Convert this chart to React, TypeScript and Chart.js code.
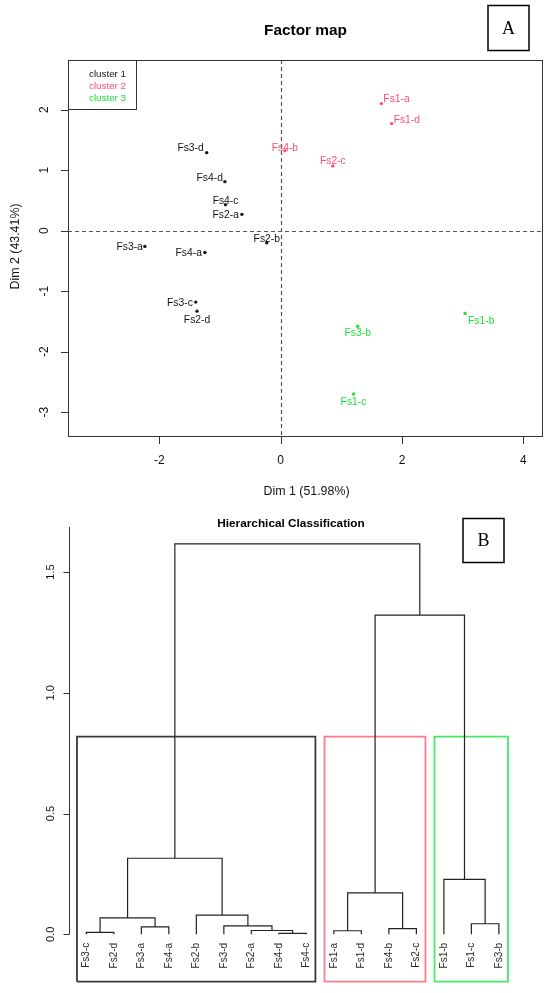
import React, { useEffect, useRef } from "react";
import { Chart, registerables } from "chart.js";
Chart.register(...registerables);

const SANS = '"Liberation Sans", Arial, Helvetica, sans-serif';
const SERIF = '"Liberation Serif", "Times New Roman", serif';

// ---------- Panel A : factor map ----------
const clusterNames = ["cluster 1", "cluster 2", "cluster 3"];
const clusterColors = ["#141414", "#FF4D73", "#22E03A"];
const cluster1Labels = ["Fs3-d", "Fs4-d", "Fs4-c", "Fs2-a", "Fs2-b", "Fs3-a", "Fs4-a", "Fs3-c", "Fs2-d"];
const cluster1Dim1 = [-1.22, -0.92, -0.91, -0.64, -0.23, -2.24, -1.25, -1.4, -1.38];
const cluster1Dim2 = [1.29, 0.81, 0.43, 0.27, -0.2, -0.26, -0.36, -1.18, -1.33];
const cluster2Labels = ["Fs1-a", "Fs1-d", "Fs4-b", "Fs2-c"];
const cluster2Dim1 = [1.66, 1.83, 0.07, 0.86];
const cluster2Dim2 = [2.1, 1.77, 1.32, 1.07];
const cluster3Labels = ["Fs1-b", "Fs3-b", "Fs1-c"];
const cluster3Dim1 = [3.04, 1.27, 1.2];
const cluster3Dim2 = [-1.37, -1.58, -2.7];
const xTicksA = [-2, 0, 2, 4];
const yTicksA = [-3, -2, -1, 0, 1, 2];
const xTitleA = "Dim 1 (51.98%)";
const yTitleA = "Dim 2 (43.41%)";
const titleA = "Factor map";

// ---------- Panel B : dendrogram ----------
const leafOrder = ["Fs3-c", "Fs2-d", "Fs3-a", "Fs4-a", "Fs2-b", "Fs3-d", "Fs2-a", "Fs4-d", "Fs4-c",
  "Fs1-a", "Fs1-d", "Fs4-b", "Fs2-c", "Fs1-b", "Fs1-c", "Fs3-b"];
const mergeLeft = ["Fs4-d", "Fs3-c", "Fs1-a", "Fs2-a", "Fs4-b", "Fs3-a", "Fs3-d", "Fs1-c", "m2", "Fs2-b", "m3", "Fs1-b", "m9", "m11", "m13"];
const mergeRight = ["Fs4-c", "Fs2-d", "Fs1-d", "m1", "Fs2-c", "Fs4-a", "m4", "Fs3-b", "m6", "m7", "m5", "m8", "m10", "m12", "m14"];
const mergeHeight = [0.004, 0.008, 0.015, 0.016, 0.024, 0.031, 0.035, 0.044, 0.068, 0.08, 0.172, 0.228, 0.315, 1.322, 1.617];
const yTicksB = [0, 0.5, 1, 1.5];
const titleB = "Hierarchical Classification";
const rectColors = ["#3a3a3a", "#FF7A8C", "#45E868"];

// label placement around points (style only)
const labelPlace: Record<string, [CanvasTextAlign, number, number]> = {
  "Fs3-d": ["right", -3, -4], "Fs4-d": ["right", -2, -4], "Fs4-c": ["center", 0, -4],
  "Fs2-a": ["right", -3, 1], "Fs2-b": ["center", 0, -4], "Fs3-a": ["right", -2, 1],
  "Fs4-a": ["right", -3, 1], "Fs3-c": ["right", -3, 1], "Fs2-d": ["center", 0, 9],
  "Fs4-b": ["center", 0, -3], "Fs1-a": ["left", 2, -4], "Fs1-d": ["left", 2, -3],
  "Fs2-c": ["center", 0, -5], "Fs1-b": ["left", 3, 8], "Fs3-b": ["center", 0, 7],
  "Fs1-c": ["center", 0, 8],
};

const clusterLabels = [cluster1Labels, cluster2Labels, cluster3Labels];
const clusterDim1 = [cluster1Dim1, cluster2Dim1, cluster3Dim1];
const clusterDim2 = [cluster1Dim2, cluster2Dim2, cluster3Dim2];

function FactorMap() {
  const ref = useRef<HTMLCanvasElement | null>(null);
  useEffect(() => {
    const datasets = clusterLabels.map((labs, c) => ({
      label: clusterNames[c],
      data: labs.map((_, i) => ({ x: clusterDim1[c][i], y: clusterDim2[c][i] })),
      backgroundColor: clusterColors[c],
      borderWidth: 0,
      pointRadius: 1.7,
    }));
    const plugin = {
      id: "factorDecor",
      beforeDatasetsDraw(chart: any) {
        const { ctx, chartArea: a, scales } = chart;
        const x0 = scales.x.getPixelForValue(0);
        const y0 = scales.y.getPixelForValue(0);
        ctx.save();
        ctx.strokeStyle = "#555";
        ctx.lineWidth = 1.2;
        ctx.setLineDash([4, 3]);
        ctx.beginPath();
        ctx.moveTo(Math.round(x0) + 0.5, a.top);
        ctx.lineTo(Math.round(x0) + 0.5, a.bottom);
        ctx.moveTo(a.left, Math.round(y0) + 0.5);
        ctx.lineTo(a.right, Math.round(y0) + 0.5);
        ctx.stroke();
        ctx.restore();
      },
      afterDatasetsDraw(chart: any) {
        const { ctx, chartArea: a, scales } = chart;
        ctx.save();
        // point labels
        ctx.font = `10.3px ${SANS}`;
        ctx.textBaseline = "middle";
        clusterLabels.forEach((labs, c) => {
          const meta = chart.getDatasetMeta(c);
          labs.forEach((name, i) => {
            const el = meta.data[i];
            const p = labelPlace[name] || ["left", 3, 0];
            ctx.fillStyle = clusterColors[c];
            ctx.textAlign = p[0];
            ctx.fillText(name, el.x + p[1], el.y + p[2]);
          });
        });
        // box
        ctx.strokeStyle = "#333";
        ctx.lineWidth = 1;
        ctx.strokeRect(a.left + 0.5, a.top + 0.5, a.right - a.left - 1, a.bottom - a.top - 1);
        // legend
        ctx.strokeRect(a.left + 0.5, a.top + 0.5, 68, 49);
        ctx.font = `9.8px ${SANS}`;
        ctx.textAlign = "left";
        clusterNames.forEach((n, c) => {
          ctx.fillStyle = clusterColors[c];
          ctx.fillText(n, a.left + 21, a.top + 14 + c * 12.3);
        });
        // x axis ticks
        ctx.strokeStyle = "#333";
        ctx.fillStyle = "#111";
        ctx.font = `12px ${SANS}`;
        ctx.textAlign = "center";
        ctx.beginPath();
        xTicksA.forEach((v) => {
          const px = Math.round(scales.x.getPixelForValue(v)) + 0.5;
          ctx.moveTo(px, a.bottom);
          ctx.lineTo(px, a.bottom + 7);
        });
        yTicksA.forEach((v) => {
          const py = Math.round(scales.y.getPixelForValue(v)) + 0.5;
          ctx.moveTo(a.left - 7, py);
          ctx.lineTo(a.left, py);
        });
        ctx.stroke();
        xTicksA.forEach((v) => {
          ctx.fillText(String(v), scales.x.getPixelForValue(v), a.bottom + 24);
        });
        yTicksA.forEach((v) => {
          const py = scales.y.getPixelForValue(v);
          ctx.save();
          ctx.translate(a.left - 23, py);
          ctx.rotate(-Math.PI / 2);
          ctx.fillText(String(v), 0, 0);
          ctx.restore();
        });
        // axis titles
        ctx.font = `12.4px ${SANS}`;
        ctx.fillText(xTitleA, (a.left + a.right) / 2 + 1, a.bottom + 55);
        ctx.save();
        ctx.translate(16, (a.top + a.bottom) / 2 - 2);
        ctx.rotate(-Math.PI / 2);
        ctx.fillText(yTitleA, 0, 0);
        ctx.restore();
        // main title
        ctx.font = `bold 15.4px ${SANS}`;
        ctx.fillStyle = "#000";
        ctx.fillText(titleA, (a.left + a.right) / 2, 31);
        // panel letter
        ctx.lineWidth = 1.5;
        ctx.strokeStyle = "#000";
        ctx.strokeRect(488, 5.5, 41, 45);
        ctx.font = `18px ${SERIF}`;
        ctx.fillText("A", 508.5, 29);
        ctx.restore();
      },
    };
    const chart = new Chart(ref.current as HTMLCanvasElement, {
      type: "scatter",
      data: { datasets },
      options: {
        animation: false,
        responsive: false,
        devicePixelRatio: 1,
        layout: { padding: { left: 68, right: 7, top: 60, bottom: 68 } },
        plugins: { legend: { display: false }, tooltip: { enabled: false }, title: { display: false } },
        scales: {
          x: { type: "linear", display: false, min: -3.507, max: 4.325 },
          y: { type: "linear", display: false, min: -3.41, max: 2.821 },
        },
      },
      plugins: [plugin],
    } as any);
    return () => chart.destroy();
  }, []);
  return <canvas ref={ref} width={550} height={505} style={{ display: "block", width: 550, height: 505 }} />;
}

function Dendrogram() {
  const ref = useRef<HTMLCanvasElement | null>(null);
  useEffect(() => {
    const pos: Record<string, { x: number; h: number }> = {};
    leafOrder.forEach((n, i) => (pos[n] = { x: i + 1, h: 0 }));
    const datasets: any[] = [];
    mergeLeft.forEach((l, k) => {
      const r = mergeRight[k];
      const h = mergeHeight[k];
      const L = pos[l];
      const R = pos[r];
      pos["m" + (k + 1)] = { x: (L.x + R.x) / 2, h };
      datasets.push({
        data: [{ x: L.x, y: L.h }, { x: L.x, y: h }, { x: R.x, y: h }, { x: R.x, y: R.h }],
        borderColor: "#222",
        borderWidth: 1.2,
        pointRadius: 0,
        fill: false,
        tension: 0,
        clip: false,
      });
    });
    const sorted = [...mergeHeight].sort((a, b) => b - a);
    const k = clusterLabels.length;
    const rectTop = (sorted[k - 2] + sorted[k - 1]) / 2;
    const yMin = -0.196;
    clusterLabels.forEach((labs, c) => {
      const idx = leafOrder.map((n, i) => (labs.includes(n) ? i + 1 : -1)).filter((v) => v > 0);
      const x1 = Math.min(...idx) - 0.34;
      const x2 = Math.max(...idx) + 0.33;
      datasets.push({
        data: [{ x: x1, y: yMin }, { x: x1, y: rectTop }, { x: x2, y: rectTop }, { x: x2, y: yMin }, { x: x1, y: yMin }],
        borderColor: rectColors[c],
        borderWidth: 1.8,
        pointRadius: 0,
        fill: false,
        tension: 0,
        clip: false,
      });
    });
    const plugin = {
      id: "dendroDecor",
      afterDatasetsDraw(chart: any) {
        const { ctx, chartArea: a, scales } = chart;
        ctx.save();
        ctx.strokeStyle = "#333";
        ctx.lineWidth = 1;
        const ax = Math.round(a.left) + 0.5;
        ctx.beginPath();
        ctx.moveTo(ax, scales.y.getPixelForValue(0));
        ctx.lineTo(ax, a.top);
        yTicksB.forEach((v) => {
          const py = Math.round(scales.y.getPixelForValue(v)) + 0.5;
          ctx.moveTo(ax - 6, py);
          ctx.lineTo(ax, py);
        });
        ctx.stroke();
        ctx.fillStyle = "#111";
        ctx.font = `11px ${SANS}`;
        ctx.textAlign = "center";
        ctx.textBaseline = "middle";
        yTicksB.forEach((v) => {
          ctx.save();
          ctx.translate(a.left - 18, scales.y.getPixelForValue(v));
          ctx.rotate(-Math.PI / 2);
          ctx.fillText(v.toFixed(1), 0, 0);
          ctx.restore();
        });
        // leaf labels
        ctx.font = `10px ${SANS}`;
        ctx.fillStyle = "#2a2a2a";
        ctx.textAlign = "right";
        const y0 = scales.y.getPixelForValue(0);
        leafOrder.forEach((n, i) => {
          ctx.save();
          ctx.translate(scales.x.getPixelForValue(i + 1), y0 + 8.5);
          ctx.rotate(-Math.PI / 2);
          ctx.fillText(n, 0, 0);
          ctx.restore();
        });
        // title
        ctx.fillStyle = "#000";
        ctx.textAlign = "center";
        ctx.font = `bold 11.8px ${SANS}`;
        ctx.fillText(titleB, 291, 18.5);
        // panel letter
        ctx.lineWidth = 1.5;
        ctx.strokeStyle = "#000";
        ctx.strokeRect(463, 13.5, 41, 44);
        ctx.font = `18px ${SERIF}`;
        ctx.fillText("B", 483.5, 36.5);
        ctx.restore();
      },
    };
    const chart = new Chart(ref.current as HTMLCanvasElement, {
      type: "line",
      data: { datasets },
      options: {
        animation: false,
        responsive: false,
        devicePixelRatio: 1,
        layout: { padding: { left: 69, right: 33.8, top: 22, bottom: 11.3 } },
        plugins: { legend: { display: false }, tooltip: { enabled: false }, title: { display: false } },
        scales: {
          x: { type: "linear", display: false, min: 0.37, max: 16.63 },
          y: { type: "linear", display: false, min: yMin, max: 1.6865 },
        },
      },
      plugins: [plugin],
    } as any);
    return () => chart.destroy();
  }, []);
  return <canvas ref={ref} width={550} height={488} style={{ display: "block", width: 550, height: 488 }} />;
}

export default function App() {
  return (
    <div style={{ position: "absolute", left: 0, top: 0, width: 550, height: 993, background: "#fff" }}>
      <FactorMap />
      <Dendrogram />
    </div>
  );
}
